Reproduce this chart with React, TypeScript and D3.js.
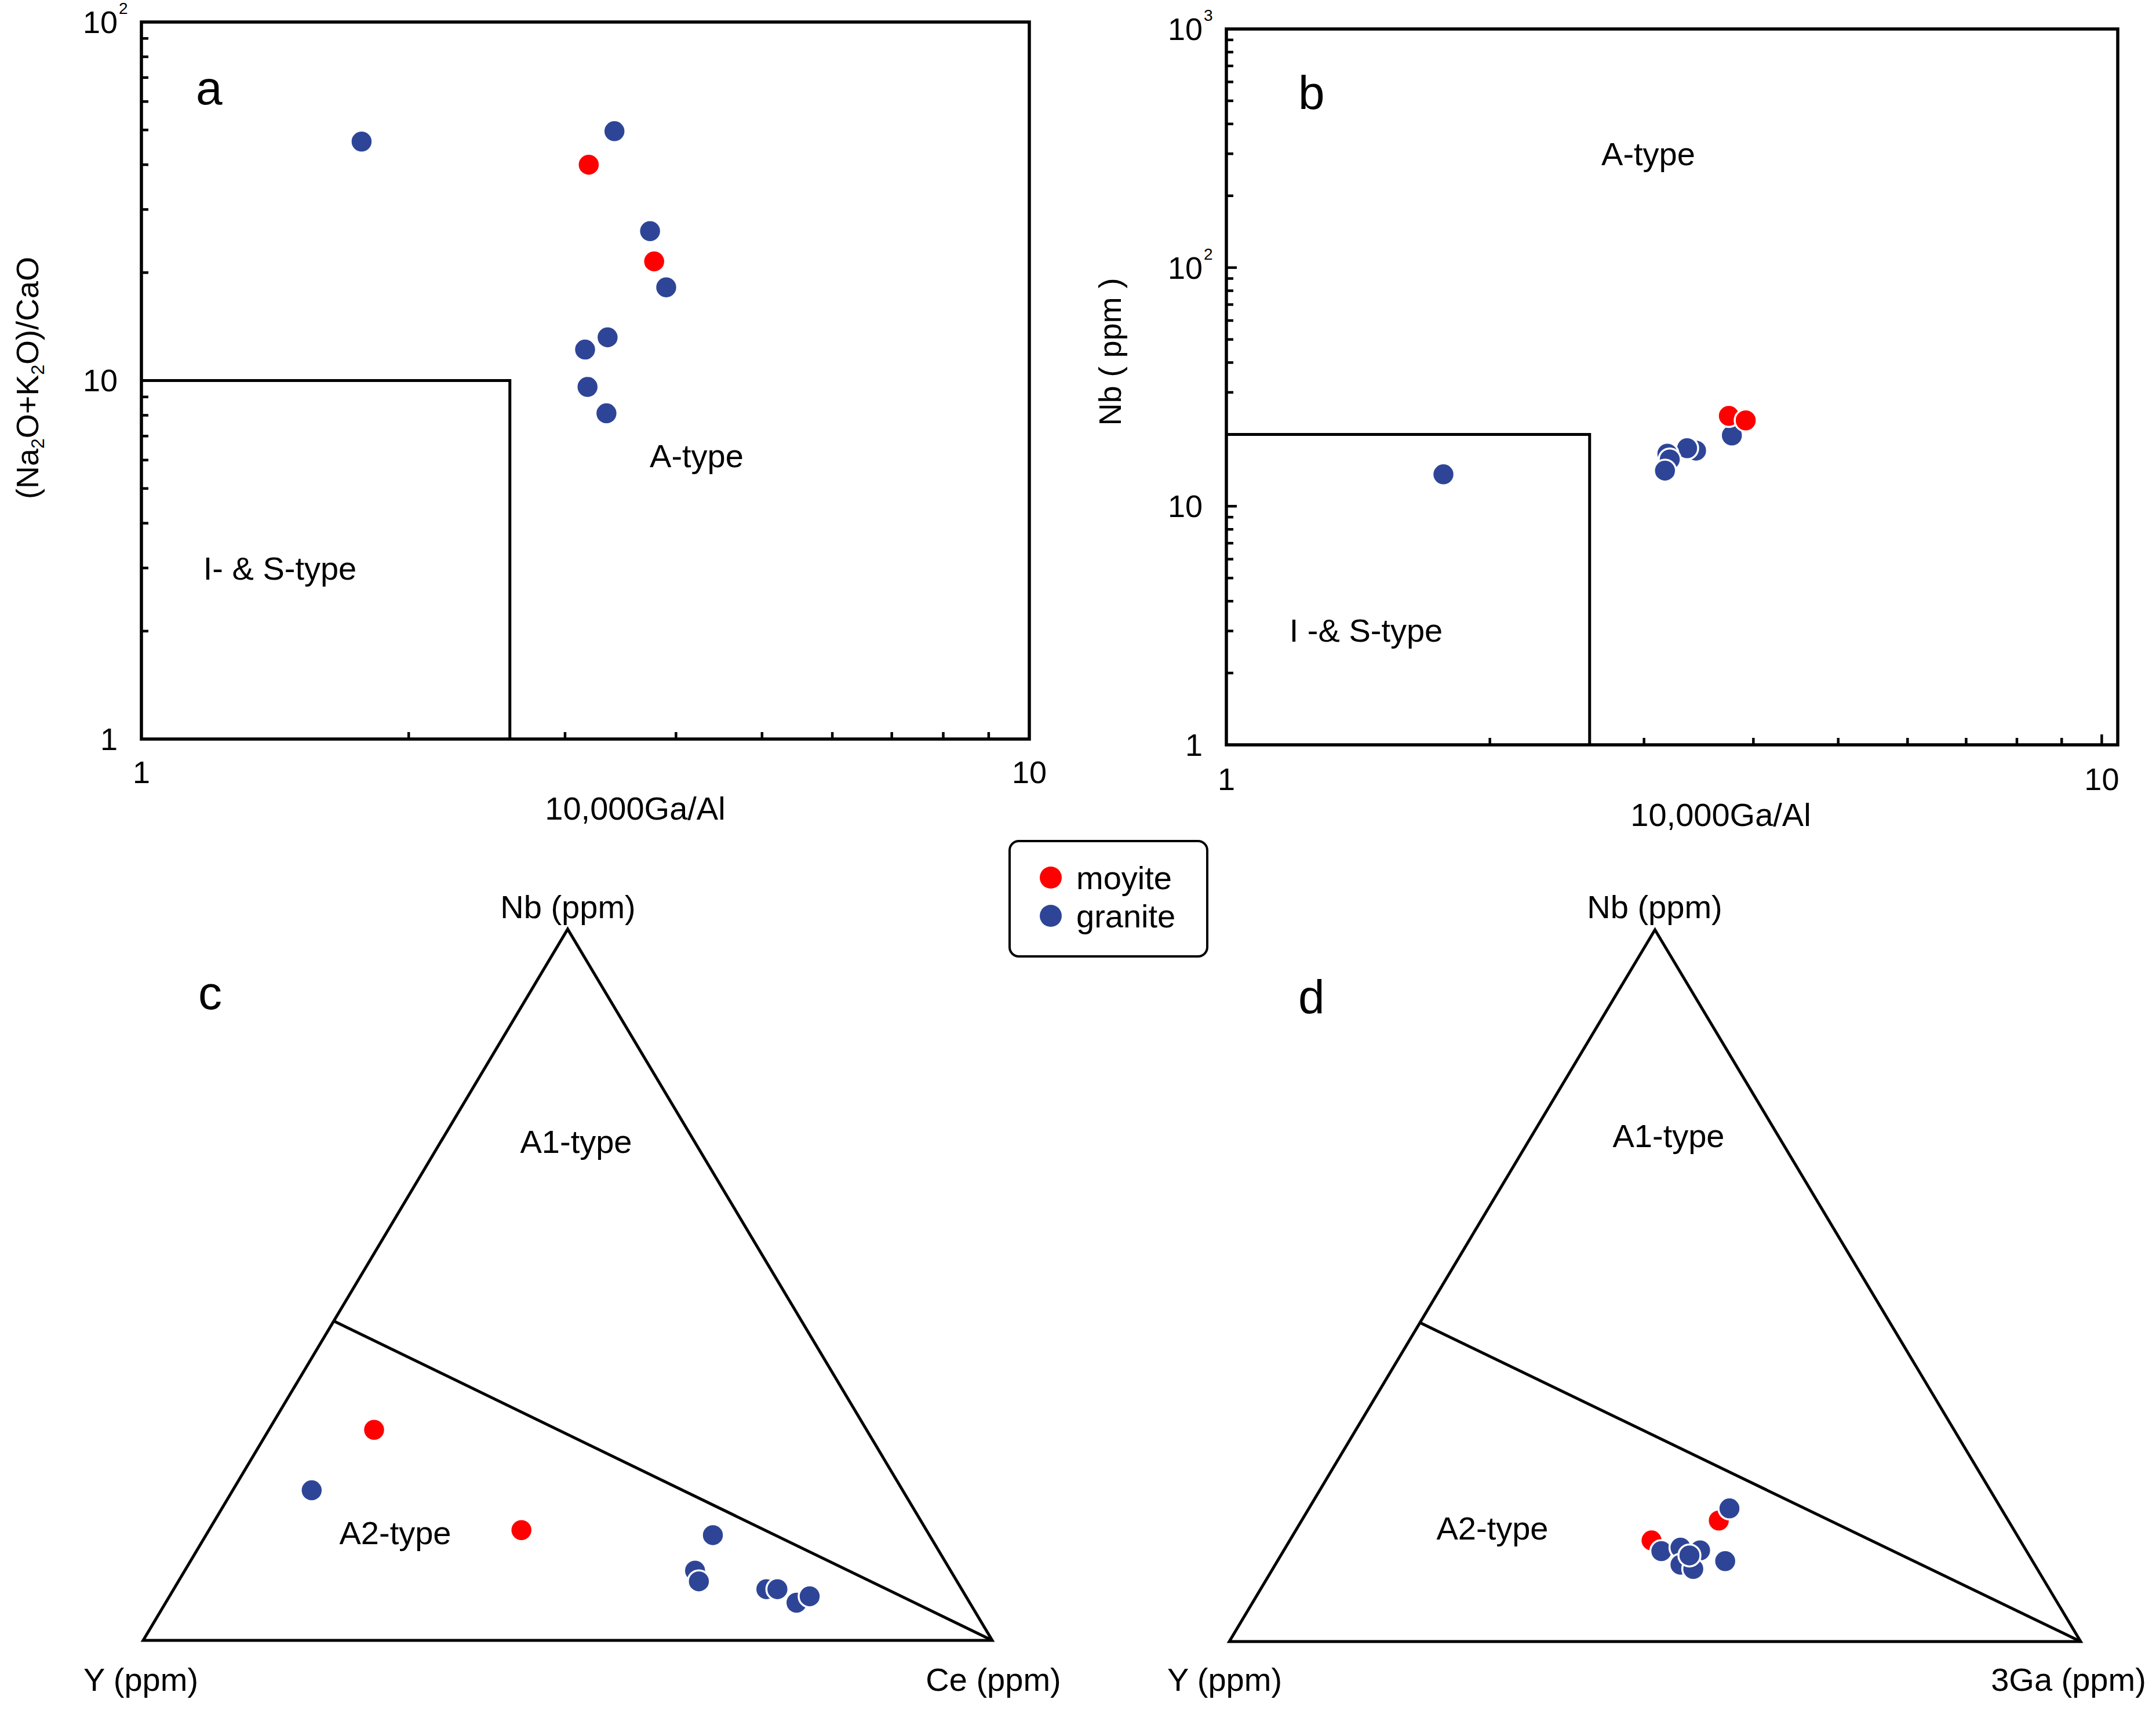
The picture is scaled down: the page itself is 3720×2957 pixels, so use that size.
import React from 'react';
import * as d3 from 'd3';

const FONT = '"Liberation Sans", Arial, Helvetica, sans-serif';
const RED = '#ff0000';
const BLUE = '#2e4597';

// ---- panel a : 10000Ga/Al vs (Na2O+K2O)/CaO
const aGaAlMoyite = [3.19, 3.78];
const aAlkCaoMoyite = [40.0, 21.5];
const aGaAlGranite = [1.77, 3.41, 3.74, 3.9, 3.35, 3.16, 3.18, 3.34];
const aAlkCaoGranite = [46.4, 49.6, 26.1, 18.2, 13.2, 12.2, 9.6, 8.1];

// ---- panel b : 10000Ga/Al vs Nb
const bGaAlGranite = [1.77, 3.78, 3.44, 3.36, 3.19, 3.21, 3.17];
const bNbGranite = [13.6, 19.8, 17.1, 17.5, 16.6, 15.7, 14.1];
const bGaAlMoyite = [3.75, 3.92];
const bNbMoyite = [23.9, 22.9];

// ---- panel c : Nb - Y - Ce ternary (%)
const cYMoyite = [58.0, 47.7];
const cNbMoyite = [29.6, 15.5];
const cCeMoyite = [12.4, 36.8];
const cYGranite = [69.6, 25.5, 30.1, 30.4, 23.0, 21.7, 20.4, 18.4];
const cNbGranite = [21.1, 14.8, 9.8, 8.3, 7.2, 7.2, 5.3, 6.2];
const cCeGranite = [9.3, 59.7, 60.1, 61.3, 69.8, 71.1, 74.3, 75.4];

// ---- panel d : Nb - Y - 3Ga ternary (%)
const dYMoyite = [43.3, 34.0];
const dNbMoyite = [14.2, 17.0];
const dGaMoyite = [42.5, 49.0];
const dYGranite = [42.9, 40.4, 38.3, 41.6, 40.4, 39.9, 31.9, 36.1];
const dNbGranite = [12.7, 13.2, 12.8, 10.8, 10.2, 12.1, 18.7, 11.3];
const dGaGranite = [44.4, 46.4, 48.9, 47.6, 49.4, 48.0, 49.4, 52.6];

// discrimination boundaries
const gaAlLimit = 2.6;
const alkCaoLimit = 10;
const nbLimit = 20;
const cDividerNb = 44.9;
const dDividerNb = 44.8;

const legendItems = ['moyite', 'granite'];
const legendColors = [RED, BLUE];

const R = 19;

type Layer = { xs: number[]; ys: number[]; color: string };

const Dot: React.FC<{ cx: number; cy: number; color: string }> = ({ cx, cy, color }) => (
  <circle cx={cx} cy={cy} r={R} fill={color} stroke="#fff" strokeWidth={3.5} />
);

const isMajor = (v: number) => Math.abs(Math.log10(v) - Math.round(Math.log10(v))) < 1e-9;

interface LogProps {
  left: number; right: number; top: number; bottom: number;
  xDomain: [number, number]; yDomain: [number, number];
  yLimit: number; layers: Layer[];
  yTitle: React.ReactNode; yTitleX: number; yTitleY: number;
  xTitleX: number; xTitleY: number; xTickY: number;
}

const LogPanel: React.FC<LogProps> = (p) => {
  const x = d3.scaleLog().domain(p.xDomain).range([p.left, p.right]);
  const y = d3.scaleLog().domain(p.yDomain).range([p.bottom, p.top]);
  const xt = x.ticks().filter((v) => v > p.xDomain[0] && x(v) < p.right - 4);
  const yt = y.ticks().filter((v) => v > p.yDomain[0] && v < p.yDomain[1]);
  const yLabels = y.ticks().filter(isMajor);
  const xLabels = x.ticks().filter(isMajor);
  return (
    <g>
      {xt.map((v) => (
        <line key={'xt' + v} x1={x(v)} x2={x(v)} y1={p.bottom} y2={p.bottom - (isMajor(v) ? 18 : 12)} stroke="#000" strokeWidth={4.5} />
      ))}
      {yt.map((v) => (
        <line key={'yt' + v} x1={p.left} x2={p.left + (isMajor(v) ? 18 : 12)} y1={y(v)} y2={y(v)} stroke="#000" strokeWidth={4.5} />
      ))}
      <rect x={p.left} y={p.top} width={p.right - p.left} height={p.bottom - p.top} fill="none" stroke="#000" strokeWidth={5.5} />
      <path
        d={`M${x(p.xDomain[0])},${y(p.yLimit)}H${x(gaAlLimit)}V${y(p.yDomain[0])}`}
        fill="none" stroke="#000" strokeWidth={5}
      />
      {xLabels.map((v) => (
        <text key={'xl' + v} x={x(v)} y={p.xTickY} textAnchor="middle" fontSize={54}>{v}</text>
      ))}
      {yLabels.map((v) => {
        const e = Math.round(Math.log10(v));
        return (
          <g key={'yl' + v}>
            <text x={p.left - 41} y={y(v)} dy="0.35em" textAnchor="end" fontSize={54}>{e < 2 ? v : '10'}</text>
            {e >= 2 && (
              <text x={p.left - 39} y={y(v) - 14} textAnchor="start" fontSize={28}>{e}</text>
            )}
          </g>
        );
      })}
      <text x={p.xTitleX} y={p.xTitleY} textAnchor="middle" fontSize={56}>10,000Ga/Al</text>
      <text transform={`translate(${p.yTitleX},${p.yTitleY}) rotate(-90)`} textAnchor="middle" fontSize={54}>{p.yTitle}</text>
      {p.layers.map((l, li) =>
        l.xs.map((v, i) => <Dot key={li + '-' + i} cx={x(v)} cy={y(l.ys[i])} color={l.color} />)
      )}
    </g>
  );
};

type TLayer = { a: number[]; top: number[]; b: number[]; color: string };

interface TernProps {
  x0: number; x1: number; base: number; apex: number;
  dividerNb: number; layers: TLayer[];
}

const Ternary: React.FC<TernProps> = (p) => {
  // horizontal position from (right-corner share + half of apex share), vertical from apex share
  const hx = d3.scaleLinear().domain([0, 100]).range([p.x0, p.x1]);
  const vy = d3.scaleLinear().domain([0, 100]).range([p.base, p.apex]);
  const pt = (a: number, t: number, b: number) => {
    const s = a + t + b;
    const tt = (t / s) * 100;
    const bb = (b / s) * 100;
    return [hx(bb + tt / 2), vy(tt)];
  };
  const A = pt(100, 0, 0);
  const B = pt(0, 0, 100);
  const T = pt(0, 100, 0);
  const D = pt(100 - p.dividerNb, p.dividerNb, 0);
  return (
    <g>
      <path d={`M${A[0]},${A[1]}L${T[0]},${T[1]}L${B[0]},${B[1]}Z`} fill="none" stroke="#000" strokeWidth={5} strokeLinejoin="miter" />
      <line x1={D[0]} y1={D[1]} x2={B[0]} y2={B[1]} stroke="#000" strokeWidth={5} />
      {p.layers.map((l, li) =>
        l.a.map((v, i) => {
          const [cx, cy] = pt(v, l.top[i], l.b[i]);
          return <Dot key={li + '-' + i} cx={cx} cy={cy} color={l.color} />;
        })
      )}
    </g>
  );
};

export default function App() {
  return (
    <svg
      width={3720}
      height={2957}
      style={{ position: 'absolute', left: 0, top: 0, background: '#fff' }}
      fontFamily={FONT}
    >
      <rect width={3720} height={2957} fill="#fff" />

      {/* a */}
      <LogPanel
        left={244} right={1776} top={38} bottom={1275}
        xDomain={[1, 10]} yDomain={[1, 100]} yLimit={alkCaoLimit}
        xTickY={1351} xTitleX={1096} xTitleY={1414}
        yTitleX={66} yTitleY={652}
        yTitle={
          <>
            (Na<tspan fontSize={32} dy={10}>2</tspan>
            <tspan dy={-10}>O+K</tspan>
            <tspan fontSize={32} dy={10}>2</tspan>
            <tspan dy={-10}>O)/CaO</tspan>
          </>
        }
        layers={[
          { xs: aGaAlGranite, ys: aAlkCaoGranite, color: BLUE },
          { xs: aGaAlMoyite, ys: aAlkCaoMoyite, color: RED },
        ]}
      />
      <text x={338} y={180} fontSize={82}>a</text>
      <text x={1202} y={806} textAnchor="middle" fontSize={56}>A-type</text>
      <text x={483} y={1000} textAnchor="middle" fontSize={56}>I- &amp; S-type</text>

      {/* b */}
      <LogPanel
        left={2116} right={3654} top={50} bottom={1285}
        xDomain={[1, 10.43]} yDomain={[1, 1000]} yLimit={nbLimit}
        xTickY={1363} xTitleX={2969} xTitleY={1425}
        yTitleX={1934} yTitleY={607}
        yTitle={'Nb ( ppm )'}
        layers={[
          { xs: bGaAlGranite, ys: bNbGranite, color: BLUE },
          { xs: bGaAlMoyite, ys: bNbMoyite, color: RED },
        ]}
      />
      <text x={2240} y={188} fontSize={82}>b</text>
      <text x={2844} y={285} textAnchor="middle" fontSize={56}>A-type</text>
      <text x={2357} y={1107} textAnchor="middle" fontSize={56}>I -&amp; S-type</text>

      {/* legend */}
      <rect x={1742} y={1451} width={341} height={199} rx={16} fill="#fff" stroke="#000" strokeWidth={4} />
      {legendItems.map((s, i) => (
        <g key={s}>
          <circle cx={1813} cy={1514 + i * 66} r={R} fill={legendColors[i]} />
          <text x={1857} y={1514 + i * 66} dy="0.35em" fontSize={56}>{s}</text>
        </g>
      ))}

      {/* c */}
      <Ternary
        x0={247} x1={1712} base={2830} apex={1603} dividerNb={cDividerNb}
        layers={[
          { a: cYMoyite, top: cNbMoyite, b: cCeMoyite, color: RED },
          { a: cYGranite, top: cNbGranite, b: cCeGranite, color: BLUE },
        ]}
      />
      <text x={342} y={1741} fontSize={82}>c</text>
      <text x={980} y={1584} textAnchor="middle" fontSize={56}>Nb (ppm)</text>
      <text x={994} y={1989} textAnchor="middle" fontSize={56}>A1-type</text>
      <text x={682} y={2664} textAnchor="middle" fontSize={56}>A2-type</text>
      <text x={243} y={2917} textAnchor="middle" fontSize={56}>Y (ppm)</text>
      <text x={1714} y={2917} textAnchor="middle" fontSize={56}>Ce (ppm)</text>

      {/* d */}
      <Ternary
        x0={2121} x1={3590} base={2832} apex={1604} dividerNb={dDividerNb}
        layers={[
          { a: dYMoyite, top: dNbMoyite, b: dGaMoyite, color: RED },
          { a: dYGranite, top: dNbGranite, b: dGaGranite, color: BLUE },
        ]}
      />
      <text x={2240} y={1748} fontSize={82}>d</text>
      <text x={2855} y={1584} textAnchor="middle" fontSize={56}>Nb (ppm)</text>
      <text x={2879} y={1979} textAnchor="middle" fontSize={56}>A1-type</text>
      <text x={2575} y={2656} textAnchor="middle" fontSize={56}>A2-type</text>
      <text x={2113} y={2917} textAnchor="middle" fontSize={56}>Y (ppm)</text>
      <text x={3569} y={2917} textAnchor="middle" fontSize={56}>3Ga (ppm)</text>
    </svg>
  );
}
